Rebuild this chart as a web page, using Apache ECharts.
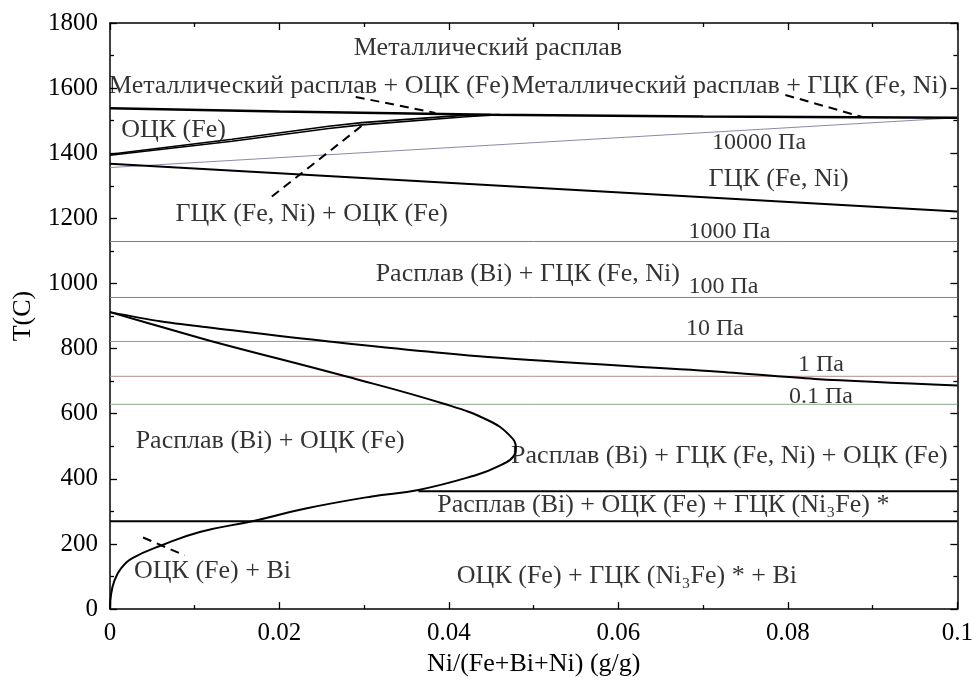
<!DOCTYPE html>
<html><head><meta charset="utf-8">
<script src="https://cdn.jsdelivr.net/npm/echarts@6/dist/echarts.min.js"></script>
<style>html,body{margin:0;padding:0;background:#fff}#c{width:976px;height:682px}</style>
</head><body><div id="c"></div><script>
// ---- data (x = Ni/(Fe+Bi+Ni), y = T in C) ----
const xTicks = [0, 0.02, 0.04, 0.06, 0.08, 0.1];
const yTicks = [0, 200, 400, 600, 800, 1000, 1200, 1400, 1600, 1800];
const liquidusTop = [[0,1538],[0.02,1528],[0.045,1518],[0.07,1513],[0.1,1509]];
const bccSolvusA = [[0,1397],[0.0144,1443],[0.0258,1483],[0.0297,1494],[0.042,1517],[0.046,1519]];
const bccSolvusB = [[0,1394],[0.0144,1437],[0.0258,1476],[0.0297,1487],[0.042,1512],[0.046,1518]];
const isobar10000 = [[0,1356],[0.1,1509]];
const fccBoundary = [[0,1368],[0.1,1221]];
const isobarX = [0, 0.1];
const isobarT = [1129, 957, 822, 715, 629];   // 1000, 100, 10, 1, 0.1 Pa
const bi3PhaseUpper = [[0,912],[0.0059,884],[0.0117,865],[0.0258,822],[0.0446,774],[0.0715,730],[0.0832,707],[0.1,687]];
const biSolvus = [[0,912],[0.0059,868],[0.0121,822],[0.0278,715],[0.0396,629],[0.0446,580],[0.0471,535],[0.0479,495],
  [0.0478,477],[0.0458,438],[0.0426,407],[0.0364,366],[0.0309,346],[0.0231,309],[0.0168,270],
  [0.0106,237],[0.0062,197],[0.0027,157],[0.0013,125],[0.0005,86],[0.0001,40],[0,0]];
const eutectoid362 = [[0.0364,362],[0.1,362]];
const eutectic270 = [[0,270],[0.1,270]];
const pointer1 = [[0.0290,1573],[0.0384,1524]];
const pointer2 = [[0.0797,1579],[0.0887,1512]];
const pointer3 = [[0.0191,1267],[0.0299,1488]];
const pointer4 = [[0.0039,220],[0.0088,165]];
const isobarColors = ['#7c7c7c','#7e7ea6','#a88c9c','#b88c8c','#8ca88c'];

// ---- annotation texts (placed in data coordinates) ----
const annotations = [
  ['Металлический расплав', 0.0446, 1723, 26],
  ['Металлический расплав + ОЦК (Fe)', 0.0235, 1607, 26],
  ['Металлический расплав + ГЦК (Fe, Ni)', 0.0731, 1607, 26],
  ['ОЦК (Fe)', 0.0075, 1472, 26],
  ['10000 Па', 0.0766, 1432, 24],
  ['ГЦК (Fe, Ni)', 0.0789, 1319, 26],
  ['ГЦК (Fe, Ni) + ОЦК (Fe)', 0.0238, 1212, 26],
  ['1000 Па', 0.0731, 1160, 24],
  ['Расплав (Bi) + ГЦК (Fe, Ni)', 0.0493, 1028, 26],
  ['100 Па', 0.0724, 989, 24],
  ['10 Па', 0.0714, 860, 24],
  ['1 Па', 0.0839, 750, 24],
  ['0.1 Па', 0.0839, 652, 24],
  ['Расплав (Bi) + ОЦК (Fe)', 0.0189, 517, 26],
  ['Расплав (Bi) + ГЦК (Fe, Ni) + ОЦК (Fe)', 0.0731, 471, 26],
  ['Расплав (Bi) + ОЦК (Fe) + ГЦК (Ni₃Fe) *', 0.0653, 318, 26],
  ['ОЦК (Fe) + Bi', 0.0121, 116, 26],
  ['ОЦК (Fe) + ГЦК (Ni₃Fe) * + Bi', 0.0610, 101, 26]
];

const FONT = '"Liberation Serif", "Times New Roman", serif';
const chart = echarts.init(document.getElementById('c'), null, {renderer:'canvas'});

function line(data, opts) {
  return Object.assign({
    type: 'line', data: data, showSymbol: false, symbol: 'none', silent: true,
    xAxisIndex: 0, yAxisIndex: 0, animation: false,
    lineStyle: {color: '#000', width: 2}
  }, opts || {});
}

const series = [];
isobarT.forEach((t, i) => {
  series.push(line(isobarX.map(x => [x, t]), {lineStyle: {color: isobarColors[i], width: 1}, z: 1}));
});
series.push(line(isobar10000, {lineStyle: {color: '#8a8aa8', width: 1}, z: 1}));
series.push(line(liquidusTop, {lineStyle: {color: '#000', width: 2.6}}));
series.push(line(bccSolvusA, {lineStyle: {color: '#000', width: 1.6}}));
series.push(line(bccSolvusB, {lineStyle: {color: '#000', width: 1.6}}));
series.push(line(fccBoundary, {lineStyle: {color: '#000', width: 2}}));
series.push(line(bi3PhaseUpper, {smooth: 0.3, lineStyle: {color: '#000', width: 2}}));
series.push(line(biSolvus, {smooth: 0.45, lineStyle: {color: '#000', width: 2}}));
series.push(line(eutectoid362, {lineStyle: {color: '#000', width: 2}}));
series.push(line(eutectic270, {lineStyle: {color: '#000', width: 2}}));
[pointer1, pointer2, pointer3, pointer4].forEach(p => {
  series.push(line(p, {lineStyle: {color: '#000', width: 2, type: [9, 6]}}));
});
series.push({
  type: 'scatter', symbolSize: 0, silent: true, animation: false, z: 5,
  data: annotations.map(a => ({value: [a[1], a[2]], name: a[0],
    label: {fontSize: a[3]}})),
  label: {show: true, position: 'inside', formatter: p => p.name,
    color: '#000', fontFamily: FONT, fontSize: 26}
});

function axisBase(extra) {
  return Object.assign({
    type: 'value',
    axisLine: {show: true, onZero: false, lineStyle: {color: '#000', width: 1.5}},
    axisTick: {show: true, inside: true, length: 7, lineStyle: {color: '#000', width: 1.3}},
    minorTick: {show: true, splitNumber: 2, length: 4, lineStyle: {color: '#000', width: 1.3}},
    splitLine: {show: false}, minorSplitLine: {show: false}
  }, extra);
}
const fmt = v => String(parseFloat(v.toFixed(3)));

chart.setOption({
  backgroundColor: '#fff',
  animation: false,
  grid: {left: 110, right: 14, top: 23, bottom: 71, containLabel: false},
  xAxis: [
    axisBase({position: 'bottom', min: xTicks[0], max: xTicks[xTicks.length-1], interval: xTicks[1]-xTicks[0],
      axisLabel: {show: true, fontFamily: FONT, fontSize: 25, color: '#000', margin: 12, formatter: fmt},
      name: 'Ni/(Fe+Bi+Ni) (g/g)', nameLocation: 'middle', nameGap: 40,
      nameTextStyle: {fontFamily: FONT, fontSize: 26, color: '#000'}}),
    axisBase({position: 'top', min: xTicks[0], max: xTicks[xTicks.length-1], interval: xTicks[1]-xTicks[0],
      axisLabel: {show: false}})
  ],
  yAxis: [
    axisBase({position: 'left', min: yTicks[0], max: yTicks[yTicks.length-1], interval: yTicks[1]-yTicks[0],
      axisLabel: {show: true, fontFamily: FONT, fontSize: 25, color: '#000', margin: 12, formatter: v => String(v)},
      name: 'T(C)', nameLocation: 'middle', nameGap: 74, nameRotate: 90,
      nameTextStyle: {fontFamily: FONT, fontSize: 26, color: '#000'}}),
    axisBase({position: 'right', min: yTicks[0], max: yTicks[yTicks.length-1], interval: yTicks[1]-yTicks[0],
      axisLabel: {show: false}})
  ],
  series: series
});
</script></body></html>
